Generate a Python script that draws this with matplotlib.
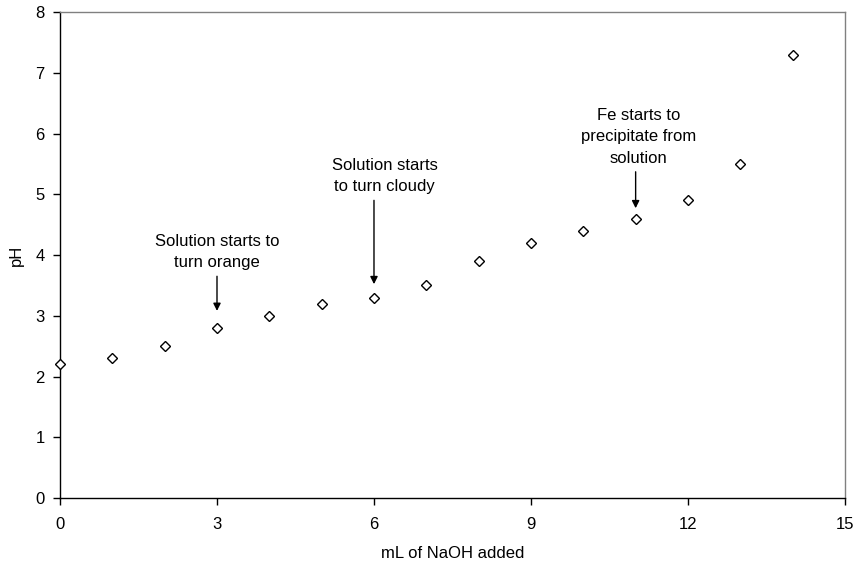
import matplotlib.pyplot as plt

plt.rcParams['font.family'] = ['Liberation Sans', 'DejaVu Sans']

naoh_ml = [0, 1, 2, 3, 4, 5, 6, 7, 8, 9, 10, 11, 12, 13, 14]
ph = [2.2, 2.3, 2.5, 2.8, 3.0, 3.2, 3.3, 3.5, 3.9, 4.2, 4.4, 4.6, 4.9, 5.5, 7.3]

notes = ['Solution starts to\nturn orange', 'Solution starts\nto turn cloudy',
         'Fe starts to\nprecipitate from\nsolution']
note_x = [3, 6, 11]
arrow_tip = [3.08, 3.52, 4.77]
arrow_tail = [3.65, 4.9, 5.37]
text_x = [3, 6.2, 11.05]

fig = plt.figure(figsize=(8.56, 5.67), dpi=100)
ax = fig.add_axes([0.0701, 0.1217, 0.9170, 0.8571])

ax.plot(naoh_ml, ph, linestyle='none', marker='D', markersize=5.5,
        markerfacecolor='white', markeredgecolor='black', markeredgewidth=1.0,
        clip_on=False, zorder=3)

for txt, x, tip, tail, tx in zip(notes, note_x, arrow_tip, arrow_tail, text_x):
    ax.annotate('', xy=(x, tip), xytext=(x, tail),
                arrowprops=dict(arrowstyle='-|>', color='black', lw=1.0,
                                mutation_scale=11, shrinkA=0, shrinkB=0))
    ax.text(tx, tail + 0.1, txt, ha='center', va='bottom', fontsize=12,
            linespacing=1.55)

ax.set_xlim(0, 15)
ax.set_ylim(0, 8)
ax.set_xticks(range(0, 16, 3))
ax.set_yticks(range(0, 9))
ax.tick_params(direction='out', length=5, width=1, labelsize=12)
ax.tick_params(axis='x', pad=9)
ax.tick_params(axis='y', pad=6)
ax.set_xlabel('mL of NaOH added', fontsize=12, labelpad=10)
ax.set_ylabel('pH', fontsize=12, labelpad=8)

for side in ['top', 'right']:
    ax.spines[side].set_color('#808080')
    ax.spines[side].set_linewidth(1.0)
for side in ['left', 'bottom']:
    ax.spines[side].set_color('black')
    ax.spines[side].set_linewidth(1.0)

fig.savefig('out.png', dpi=100)
